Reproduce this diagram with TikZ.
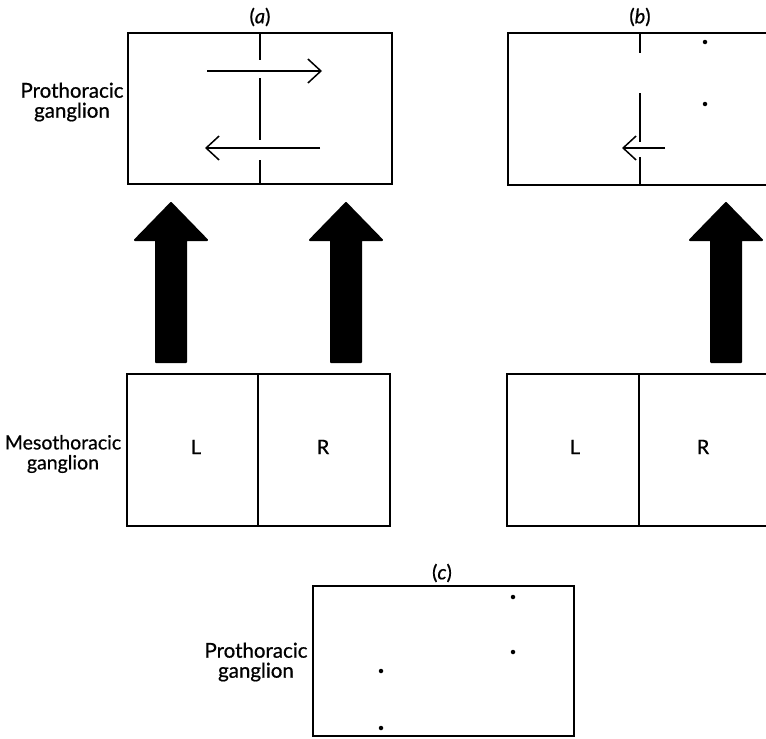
\documentclass[tikz,border=0pt]{standalone}
\usepackage{fontspec}
\setmainfont{Lato}
\newfontfamily\labfont{Lato}[FakeBold=0.7]
\usetikzlibrary{arrows.meta}
\begin{document}
\begin{tikzpicture}[x=1pt,y=-1pt,
  gbox/.style={draw, line width=1.9pt, inner sep=0pt},
  lbl/.style={font=\labfont\fontsize{20.5}{20}\selectfont, align=center, inner sep=0pt},
  tag/.style={font=\labfont\fontsize{20}{20}\selectfont, inner sep=0pt},
  side/.style={font=\labfont\fontsize{20}{20}\selectfont, inner sep=0pt},
  divider/.style={line width=1.7pt},
  flow/.style={line width=1.5pt, -{Straight Barb[length=13pt,width=24pt]}},
  spot/.style={circle, fill, inner sep=0pt, minimum size=4.5pt},
  block/.style={fill, draw, line width=2pt, line join=round},
  upblock/.pic={\filldraw[block] (-15,0) -- (-15,-122) -- (-36,-122) -- (0,-159)
                 -- (36,-122) -- (15,-122) -- (15,0) -- cycle;}]

\useasboundingbox (0,0) rectangle (766,739);
\clip (0,0) rectangle (766,739);

% ---------------- panel (a) ----------------
\node[gbox, minimum width=264pt, minimum height=151pt] (proA) at (260,108.5) {};
\node[tag] (tagA) at (260,17) {(\textit{a})};
\node[lbl] (proAlbl) at (72,102) {Prothoracic\\ganglion};
% interrupted midline
\coordinate (mA) at (260,0);
\draw[divider] (proA.north) -- (mA |- 0,60);
\draw[divider] (mA |- 0,78) -- (mA |- 0,140);
\draw[divider] (mA |- 0,160) -- (proA.south);
% crossing pathways
\coordinate (fA1) at (207,71);  \coordinate (tA1) at (322,71);
\coordinate (fA2) at (320,148); \coordinate (tA2) at (205,148);
\draw[flow] (fA1) -- (tA1);
\draw[flow] (fA2) -- (tA2);

\node[gbox, minimum width=263pt, minimum height=152pt] (mesoA) at (258.5,450) {};
\coordinate (dA) at (258,0);
\draw[divider] (dA |- mesoA.north) -- (dA |- mesoA.south);
\node[side] (LA) at (196,447) {L};
\node[side] (RA) at (323,447) {R};
\node[lbl, font=\labfont\fontsize{19.5}{20}\selectfont] (mesoAlbl) at (63,454) {Mesothoracic\\ganglion};

\pic (upAL) at (171,362) {upblock};
\pic (upAR) at (346,362) {upblock};

% ---------------- panel (b) ----------------
\node[gbox, minimum width=264pt, minimum height=152pt] (proB) at (640,109) {};
\node[tag] (tagB) at (640,17) {(\textit{b})};
\coordinate (mB) at (640,0);
\draw[divider] (proB.north) -- (mB |- 0,53);
\draw[divider] (mB |- 0,93) -- (mB |- 0,142);
\draw[divider] (mB |- 0,157) -- (proB.south);
\coordinate (fB) at (665,148); \coordinate (tB) at (622,148);
\draw[flow] (fB) -- (tB);
\node[spot] (sB1) at (705,42) {};
\node[spot] (sB2) at (705,104) {};

\node[gbox, minimum width=264pt, minimum height=152pt] (mesoB) at (639,450) {};
\draw[divider] (mesoB.north) -- (mesoB.south);
\node[side] (LB) at (575,447) {L};
\node[side] (RB) at (703,447) {R};

\pic (upBR) at (726,362) {upblock};

% ---------------- panel (c) ----------------
\node[gbox, minimum width=261pt, minimum height=150pt] (proC) at (443.5,661) {};
\node[tag] (tagC) at (442,573) {(\textit{c})};
\node[lbl] (proClbl) at (256,662) {Prothoracic\\ganglion};
\node[spot] (sC1) at (513,597) {};
\node[spot] (sC2) at (513,652) {};
\node[spot] (sC3) at (381,671) {};
\node[spot] (sC4) at (381,728) {};
\end{tikzpicture}
\end{document}
